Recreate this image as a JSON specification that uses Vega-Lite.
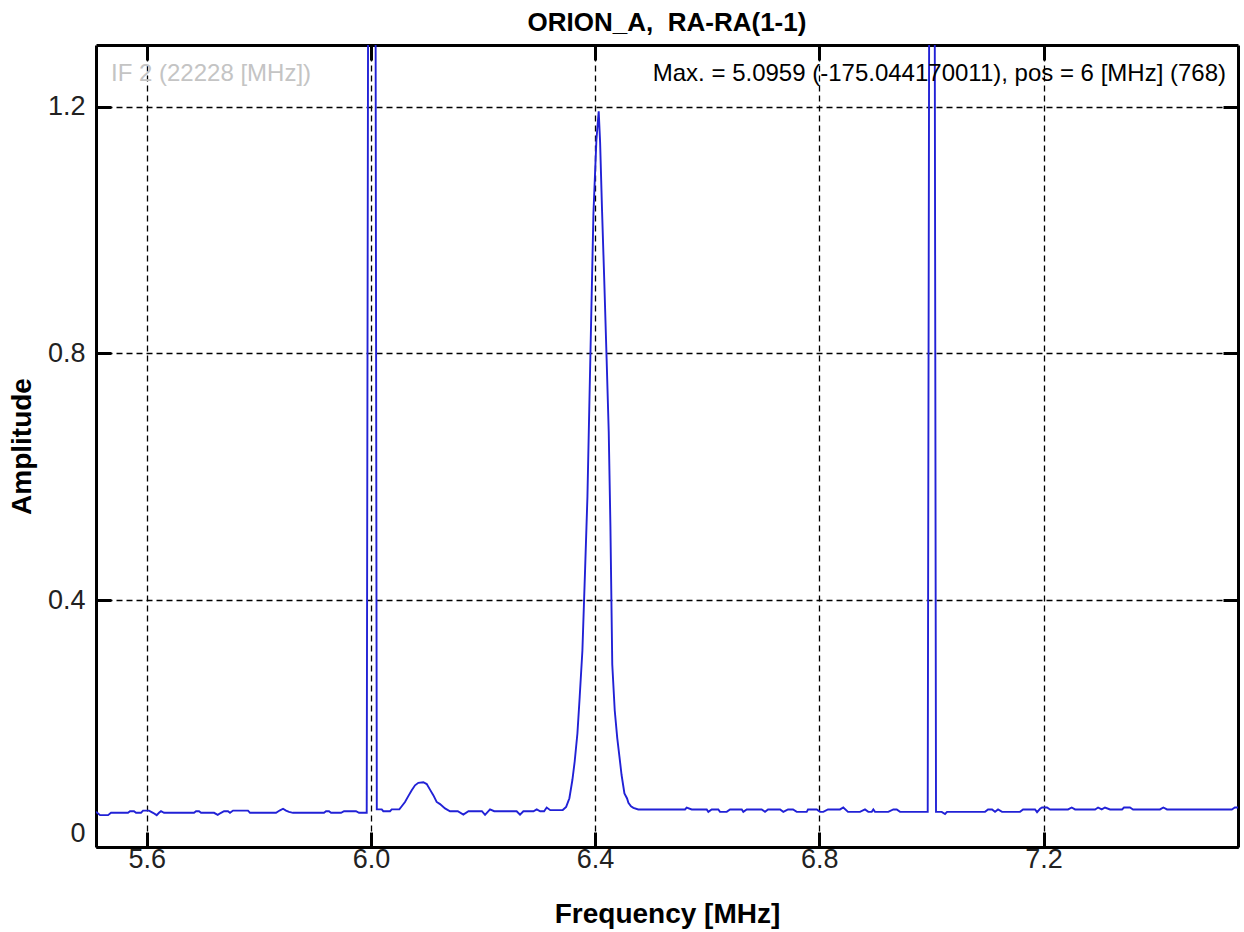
{
  "$schema": "https://vega.github.io/schema/vega-lite/v6.json",
  "width": 1142,
  "height": 802,
  "autosize": {"type": "none"},
  "padding": {"left": 96, "top": 45, "right": 6, "bottom": 85},
  "background": "white",
  "title": {"text": "ORION_A, \u00a0RA-RA(1-1)", "font": "Liberation Sans", "fontSize": 26, "fontWeight": "bold", "color": "black", "anchor": "middle", "offset": 8},
  "config": {
    "view": {"stroke": null},
    "font": "Liberation Sans",
    "axis": {
      "zindex": 1,
      "domainColor": "black",
      "domainWidth": 3,
      "tickColor": "black",
      "tickWidth": 3,
      "tickSize": -15,
      "labelFont": "Liberation Sans",
      "labelFontSize": 27,
      "labelColor": "#222222",
      "titleFont": "Liberation Sans",
      "titleFontSize": 28,
      "titleFontWeight": "bold",
      "titleColor": "black",
      "gridColor": "black",
      "gridDash": [6, 4],
      "gridWidth": 1.3,
      "gridOpacity": 1
    }
  },
  "data": {"values": [
    {"f": 5.5095, "a": 0.057}, {"f": 5.5167, "a": 0.0516}, {"f": 5.531, "a": 0.0516}, {"f": 5.5363, "a": 0.0554},
    {"f": 5.5666, "a": 0.0554}, {"f": 5.5702, "a": 0.058}, {"f": 5.5773, "a": 0.058}, {"f": 5.5809, "a": 0.0554},
    {"f": 5.5898, "a": 0.0554}, {"f": 5.5934, "a": 0.059}, {"f": 5.6041, "a": 0.059}, {"f": 5.6112, "a": 0.0554},
    {"f": 5.6178, "a": 0.0516}, {"f": 5.6219, "a": 0.0554}, {"f": 5.6255, "a": 0.058}, {"f": 5.6309, "a": 0.0554},
    {"f": 5.6844, "a": 0.0554}, {"f": 5.688, "a": 0.058}, {"f": 5.6933, "a": 0.058}, {"f": 5.6969, "a": 0.0554},
    {"f": 5.7201, "a": 0.0554}, {"f": 5.7267, "a": 0.052}, {"f": 5.7326, "a": 0.0554}, {"f": 5.7379, "a": 0.058},
    {"f": 5.745, "a": 0.058}, {"f": 5.7486, "a": 0.0554}, {"f": 5.754, "a": 0.059}, {"f": 5.7807, "a": 0.059},
    {"f": 5.7843, "a": 0.0554}, {"f": 5.8307, "a": 0.0554}, {"f": 5.8378, "a": 0.0595}, {"f": 5.8432, "a": 0.062},
    {"f": 5.8485, "a": 0.059}, {"f": 5.8539, "a": 0.057}, {"f": 5.861, "a": 0.0554}, {"f": 5.9163, "a": 0.0554},
    {"f": 5.9199, "a": 0.058}, {"f": 5.9252, "a": 0.058}, {"f": 5.9288, "a": 0.0554}, {"f": 5.9467, "a": 0.0554},
    {"f": 5.952, "a": 0.058}, {"f": 5.9734, "a": 0.058}, {"f": 5.9788, "a": 0.0554}, {"f": 5.9925, "a": 0.0554},
    {"f": 6.002, "a": 5.0959},
    {"f": 6.0105, "a": 0.061}, {"f": 6.0193, "a": 0.061}, {"f": 6.0221, "a": 0.058}, {"f": 6.0341, "a": 0.058},
    {"f": 6.0371, "a": 0.061}, {"f": 6.0507, "a": 0.061}, {"f": 6.055, "a": 0.066}, {"f": 6.0608, "a": 0.073},
    {"f": 6.0667, "a": 0.0825}, {"f": 6.0728, "a": 0.092}, {"f": 6.0787, "a": 0.1}, {"f": 6.0846, "a": 0.104},
    {"f": 6.0935, "a": 0.105}, {"f": 6.0996, "a": 0.102}, {"f": 6.1054, "a": 0.093}, {"f": 6.1113, "a": 0.084},
    {"f": 6.1173, "a": 0.073}, {"f": 6.1233, "a": 0.0695}, {"f": 6.1322, "a": 0.0625}, {"f": 6.1411, "a": 0.058},
    {"f": 6.155, "a": 0.058}, {"f": 6.1649, "a": 0.0525}, {"f": 6.174, "a": 0.058}, {"f": 6.198, "a": 0.058},
    {"f": 6.2036, "a": 0.052}, {"f": 6.2125, "a": 0.061}, {"f": 6.22, "a": 0.058}, {"f": 6.26, "a": 0.058},
    {"f": 6.266, "a": 0.0525}, {"f": 6.272, "a": 0.058}, {"f": 6.29, "a": 0.058}, {"f": 6.2958, "a": 0.061},
    {"f": 6.302, "a": 0.058}, {"f": 6.309, "a": 0.058}, {"f": 6.3136, "a": 0.064}, {"f": 6.32, "a": 0.0597},
    {"f": 6.338, "a": 0.0597}, {"f": 6.3422, "a": 0.06}, {"f": 6.3483, "a": 0.065}, {"f": 6.3541, "a": 0.079},
    {"f": 6.3595, "a": 0.109}, {"f": 6.3636, "a": 0.139}, {"f": 6.3684, "a": 0.184}, {"f": 6.3725, "a": 0.2435},
    {"f": 6.3773, "a": 0.318}, {"f": 6.3822, "a": 0.452}, {"f": 6.3863, "a": 0.568}, {"f": 6.3898, "a": 0.721},
    {"f": 6.3934, "a": 0.874}, {"f": 6.397, "a": 1.027}, {"f": 6.4023, "a": 1.146}, {"f": 6.4064, "a": 1.1925},
    {"f": 6.4089, "a": 1.1425}, {"f": 6.4124, "a": 1.0307}, {"f": 6.4163, "a": 0.9187}, {"f": 6.4205, "a": 0.7919},
    {"f": 6.4243, "a": 0.6726}, {"f": 6.4273, "a": 0.5196}, {"f": 6.4306, "a": 0.2958}, {"f": 6.435, "a": 0.2213},
    {"f": 6.4395, "a": 0.1765}, {"f": 6.4434, "a": 0.1466}, {"f": 6.4472, "a": 0.1167}, {"f": 6.4523, "a": 0.0869},
    {"f": 6.457, "a": 0.0787}, {"f": 6.4594, "a": 0.0716}, {"f": 6.464, "a": 0.066}, {"f": 6.4683, "a": 0.0635},
    {"f": 6.477, "a": 0.0609}, {"f": 6.5604, "a": 0.0609}, {"f": 6.5634, "a": 0.064}, {"f": 6.5723, "a": 0.0609},
    {"f": 6.5991, "a": 0.0609}, {"f": 6.602, "a": 0.057}, {"f": 6.608, "a": 0.0609}, {"f": 6.6198, "a": 0.0609},
    {"f": 6.6228, "a": 0.057}, {"f": 6.6348, "a": 0.057}, {"f": 6.6407, "a": 0.0609}, {"f": 6.6616, "a": 0.0609},
    {"f": 6.6644, "a": 0.057}, {"f": 6.6705, "a": 0.0609}, {"f": 6.6972, "a": 0.0609}, {"f": 6.7031, "a": 0.057},
    {"f": 6.7085, "a": 0.0609}, {"f": 6.73, "a": 0.0609}, {"f": 6.7358, "a": 0.057}, {"f": 6.7442, "a": 0.0609},
    {"f": 6.7531, "a": 0.0609}, {"f": 6.7597, "a": 0.057}, {"f": 6.7775, "a": 0.057}, {"f": 6.7798, "a": 0.0609},
    {"f": 6.7954, "a": 0.0609}, {"f": 6.8013, "a": 0.057}, {"f": 6.8071, "a": 0.057}, {"f": 6.8155, "a": 0.0609},
    {"f": 6.8369, "a": 0.0609}, {"f": 6.8428, "a": 0.064}, {"f": 6.8512, "a": 0.057}, {"f": 6.8726, "a": 0.057},
    {"f": 6.8815, "a": 0.0609}, {"f": 6.8874, "a": 0.057}, {"f": 6.8935, "a": 0.057}, {"f": 6.8964, "a": 0.0609},
    {"f": 6.8994, "a": 0.057}, {"f": 6.9231, "a": 0.057}, {"f": 6.932, "a": 0.0609}, {"f": 6.9381, "a": 0.0609},
    {"f": 6.944, "a": 0.057}, {"f": 6.9934, "a": 0.057},
    {"f": 7.0013, "a": 4.0},
    {"f": 7.0082, "a": 0.057}, {"f": 7.0184, "a": 0.057}, {"f": 7.0243, "a": 0.0535}, {"f": 7.0279, "a": 0.057},
    {"f": 7.0957, "a": 0.057}, {"f": 7.101, "a": 0.0609}, {"f": 7.1082, "a": 0.0609}, {"f": 7.1135, "a": 0.057},
    {"f": 7.1189, "a": 0.0609}, {"f": 7.126, "a": 0.057}, {"f": 7.1581, "a": 0.057}, {"f": 7.1635, "a": 0.0609},
    {"f": 7.1849, "a": 0.0609}, {"f": 7.1885, "a": 0.0565}, {"f": 7.1938, "a": 0.062}, {"f": 7.1974, "a": 0.064},
    {"f": 7.2063, "a": 0.064}, {"f": 7.2117, "a": 0.0609}, {"f": 7.2438, "a": 0.0609}, {"f": 7.2503, "a": 0.064},
    {"f": 7.2563, "a": 0.0609}, {"f": 7.292, "a": 0.0609}, {"f": 7.2973, "a": 0.064}, {"f": 7.3038, "a": 0.0609},
    {"f": 7.3097, "a": 0.064}, {"f": 7.3187, "a": 0.0609}, {"f": 7.3401, "a": 0.0609}, {"f": 7.3436, "a": 0.064},
    {"f": 7.3543, "a": 0.064}, {"f": 7.3597, "a": 0.0609}, {"f": 7.4078, "a": 0.0609}, {"f": 7.4138, "a": 0.064},
    {"f": 7.4204, "a": 0.0609}, {"f": 7.536, "a": 0.0609}, {"f": 7.5414, "a": 0.064}, {"f": 7.547, "a": 0.064}
  ]},
  "layer": [
    {
      "mark": {"type": "line", "color": "#2121d6", "strokeWidth": 1.9, "clip": true},
      "encoding": {
        "x": {"field": "f", "type": "quantitative",
              "scale": {"domain": [5.5095, 7.547], "zero": false, "nice": false},
              "axis": {"orient": "bottom", "values": [5.6, 6.0, 6.4, 6.8, 7.2], "format": ".1f", "grid": true,
                       "title": "Frequency [MHz]", "labelPadding": 14, "titlePadding": 28}},
        "y": {"field": "a", "type": "quantitative",
              "scale": {"domain": [0, 1.3], "zero": false, "nice": false},
              "axis": {"orient": "left", "values": [0, 0.4, 0.8, 1.2],
                       "labelExpr": "datum.value == 0 ? '0' : format(datum.value, '.1f')", "grid": true,
                       "labelFlush": true, "title": "Amplitude", "labelPadding": 26, "titlePadding": 11}}
      }
    },
    {
      "mark": {"type": "line", "opacity": 0, "clip": true},
      "encoding": {
        "x": {"field": "f", "type": "quantitative",
              "axis": {"orient": "top", "values": [5.6, 6.0, 6.4, 6.8, 7.2], "labels": false, "grid": false, "title": null}},
        "y": {"field": "a", "type": "quantitative",
              "axis": {"orient": "right", "values": [0, 0.4, 0.8, 1.2], "labels": false, "grid": false, "title": null}}
      }
    },
    {
      "data": {"values": [{"label": "IF 2 (22228 [MHz])"}]},
      "mark": {"type": "text", "align": "left", "baseline": "middle", "fontSize": 24, "color": "#c4c4c4", "font": "Liberation Sans"},
      "encoding": {
        "x": {"datum": 5.5363, "type": "quantitative", "axis": null},
        "y": {"datum": 1.2523, "type": "quantitative", "axis": null},
        "text": {"field": "label"}
      }
    },
    {
      "data": {"values": [{"label": "Max. = 5.0959 (-175.044170011), pos = 6 [MHz] (768)"}]},
      "mark": {"type": "text", "align": "right", "baseline": "middle", "fontSize": 24, "color": "black", "font": "Liberation Sans"},
      "encoding": {
        "x": {"datum": 7.5256, "type": "quantitative", "axis": null},
        "y": {"datum": 1.2523, "type": "quantitative", "axis": null},
        "text": {"field": "label"}
      }
    }
  ],
  "resolve": {"axis": {"x": "independent", "y": "independent"}}
}
